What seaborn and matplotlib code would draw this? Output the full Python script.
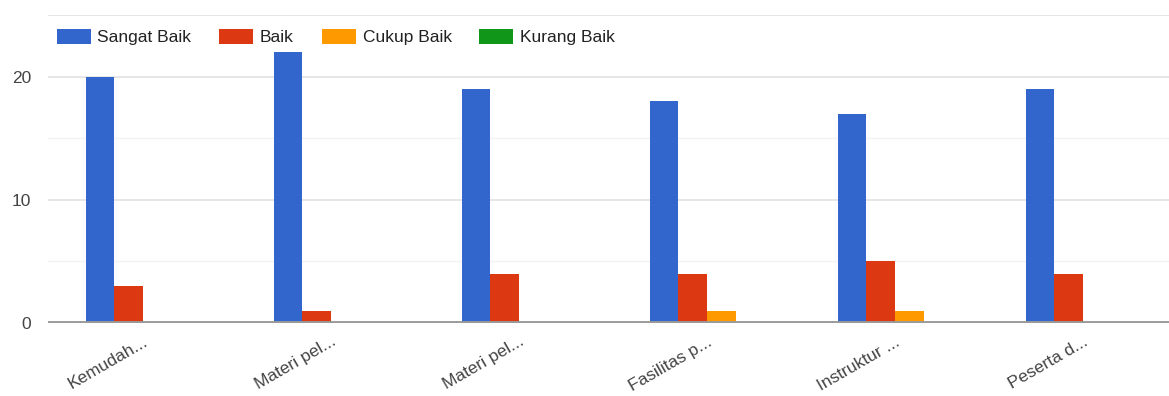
import numpy as np
import pandas as pd
import matplotlib
matplotlib.use("Agg")
import matplotlib.pyplot as plt
import seaborn as sns
from matplotlib.patches import Patch
from matplotlib.transforms import ScaledTranslation

categories = ["Kemudah...", "Materi pel...", "Materi pel...", "Fasilitas p...", "Instruktur ...", "Peserta d..."]
series_names = ["Sangat Baik", "Baik", "Cukup Baik", "Kurang Baik"]
sangat_baik = [20, 22, 19, 18, 17, 19]
baik = [3, 1, 4, 4, 5, 4]
cukup_baik = [0, 0, 0, 1, 1, 0]
kurang_baik = [0, 0, 0, 0, 0, 0]
colors = ["#3366cc", "#dc3912", "#ff9900", "#109618"]
y_ticks = [0, 10, 20]

rows = []
for i, cat in enumerate(categories):
    for name, vals in zip(series_names, [sangat_baik, baik, cukup_baik, kurang_baik]):
        rows.append({"cat_idx": i, "series": name, "value": vals[i]})
df = pd.DataFrame(rows)

sns.set_theme(style="white")
plt.rcParams['font.family'] = ['Liberation Sans', 'DejaVu Sans']

W, H = 1169, 396
fig = plt.figure(figsize=(W / 100, H / 100), dpi=100)
ax_left = 48 / W
ax = fig.add_axes([ax_left, 1 - 323 / H, 1 - ax_left, (323 - 15) / H])

sns.barplot(data=df, x="cat_idx", y="value", hue="series", hue_order=series_names,
            palette=colors, width=0.61, saturation=1, ax=ax, legend=False,
            edgecolor="none", linewidth=0)

ax.set_ylim(0, 25)
ax.set_xlim(-0.505, -0.505 + (W - 48) / 188)
for yv in [5, 15]:
    ax.axhline(yv, color="#f2f2f2", lw=1.0, zorder=0)
for yv in [10, 20, 25]:
    ax.axhline(yv, color="#e4e4e4", lw=1.3, zorder=0)
ax.axhline(0, color="#9a9a9a", lw=2.8, zorder=5)

ax.set_yticks(y_ticks)
ax.set_yticklabels([str(v) for v in y_ticks], fontsize=12.5, color="#444444")
ax.tick_params(axis="y", length=0, pad=12)
ax.set_xticks(range(len(categories)))
ax.set_xticklabels(categories, rotation=30, ha="right", rotation_mode="anchor",
                   fontsize=12.5, color="#444444")
ax.tick_params(axis="x", length=0, pad=8)
off = ScaledTranslation(0 / 100, 0, fig.dpi_scale_trans)
for lab in ax.get_xticklabels():
    lab.set_transform(lab.get_transform() + off)
ax.set_xlabel("")
ax.set_ylabel("")
for s in ax.spines.values():
    s.set_visible(False)
ax.grid(False)

handles = [Patch(facecolor=c, edgecolor="none") for c in colors]
fig.legend(handles, series_names, loc="center left", bbox_to_anchor=(48 / W, 1 - 37 / H),
           ncol=4, frameon=False, fontsize=12.5, handlelength=1.95, handleheight=0.98,
           handletextpad=0.4, columnspacing=1.6, borderpad=0, labelcolor="#222222")

fig.savefig("out.png", dpi=100)
